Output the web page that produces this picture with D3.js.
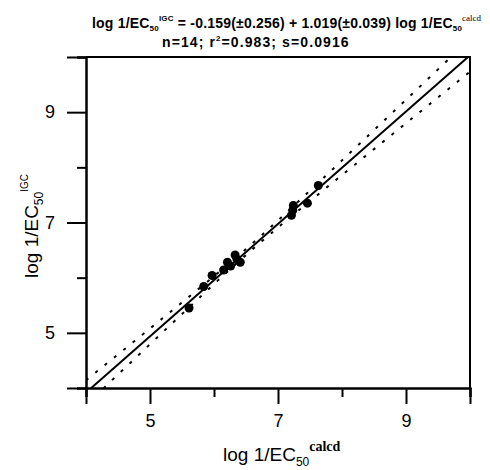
<!DOCTYPE html>
<html>
<head>
<meta charset="utf-8">
<script src="https://cdn.jsdelivr.net/npm/d3@7"></script>
<style>
  body { margin: 0; background: #fff; }
  text { font-family: "Liberation Sans", Arial, sans-serif; }
</style>
</head>
<body>
<div id="chart"></div>
<script>
var xCalcd = [5.61, 5.84, 5.97, 6.15, 6.21, 6.26, 6.33, 6.41, 6.36, 7.21, 7.23, 7.24, 7.46, 7.63];
var yIgc   = [5.45, 5.84, 6.04, 6.14, 6.28, 6.21, 6.41, 6.28, 6.33, 7.13, 7.22, 7.31, 7.35, 7.67];

var majorTicks = [5, 7, 9];
var minorTicks = [4, 6, 8, 10];

// regression stats from the title
var intercept = -0.159;
var slope = 1.019;
var sErr = 0.0916;
var tCrit = 2.179; // t(0.975, 12)

var width = 490, height = 470;
var plotLeft = 86, plotRight = 470, plotTop = 57, plotBottom = 388;

var svg = d3.select("#chart").append("svg")
    .attr("width", width).attr("height", height);

var x = d3.scaleLinear().domain([4, 10]).range([plotLeft, plotRight]);
var y = d3.scaleLinear().domain([4, 10]).range([plotBottom, plotTop]);

svg.append("clipPath").attr("id", "plot")
  .append("rect").attr("x", plotLeft).attr("y", plotTop)
  .attr("width", plotRight - plotLeft).attr("height", plotBottom - plotTop);

// frame (top + right)
svg.append("path")
    .attr("d", "M" + plotLeft + "," + y(10) + "H" + x(10) + "V" + y(4))
    .attr("fill", "none").attr("stroke", "#000").attr("stroke-width", 2);

// axes: major with labels, minor without
var xMajor = d3.axisBottom(x).tickValues(majorTicks).tickSize(16).tickPadding(10).tickFormat(d3.format("d"));
var xMinor = d3.axisBottom(x).tickValues(minorTicks).tickSize(9).tickFormat("");
var yMajor = d3.axisLeft(y).tickValues(majorTicks).tickSize(19).tickPadding(12).tickFormat(d3.format("d"));
var yMinor = d3.axisLeft(y).tickValues(minorTicks).tickSize(9).tickFormat("");

function styleAxis(g) {
  g.selectAll("path.domain").attr("stroke", "#000").attr("stroke-width", 2);
  g.selectAll(".tick line").attr("stroke", "#000").attr("stroke-width", 2);
  g.selectAll(".tick text").attr("fill", "#000")
    .style("font-family", "'Liberation Sans', Arial, sans-serif").style("font-size", "18px");
}

svg.append("g").attr("transform", "translate(0," + plotBottom + ")").call(xMinor).call(styleAxis);
svg.append("g").attr("transform", "translate(0," + plotBottom + ")").call(xMajor).call(styleAxis);
svg.append("g").attr("transform", "translate(" + plotLeft + ",0)").call(yMinor).call(styleAxis);
svg.append("g").attr("transform", "translate(" + plotLeft + ",0)").call(yMajor).call(styleAxis);

// 95% confidence band of the fit
var n = xCalcd.length;
var xMean = d3.mean(xCalcd);
var sxx = d3.sum(xCalcd, function(v) { return (v - xMean) * (v - xMean); });
var grid = d3.range(0, 121).map(function(i) { return 4 + i * 0.05; });
function fit(v) { return intercept + slope * v; }
function half(v) { return tCrit * sErr * Math.sqrt(1 / n + (v - xMean) * (v - xMean) / sxx); }

var line = d3.line().x(function(d) { return x(d[0]); }).y(function(d) { return y(d[1]); });
var plot = svg.append("g").attr("clip-path", "url(#plot)");

plot.append("path")
    .datum(grid.map(function(v) { return [v, fit(v) + half(v)]; }))
    .attr("d", line).attr("fill", "none").attr("stroke", "#000")
    .attr("stroke-width", 2).attr("stroke-dasharray", "3,9");
plot.append("path")
    .datum(grid.map(function(v) { return [v, fit(v) - half(v)]; }))
    .attr("d", line).attr("fill", "none").attr("stroke", "#000")
    .attr("stroke-width", 2).attr("stroke-dasharray", "3,9");
plot.append("path")
    .datum([[4, fit(4)], [10, fit(10)]])
    .attr("d", line).attr("fill", "none").attr("stroke", "#000").attr("stroke-width", 2);

// points
svg.append("g").selectAll("circle")
    .data(xCalcd)
    .join("circle")
    .attr("cx", function(d) { return x(d); })
    .attr("cy", function(d, i) { return y(yIgc[i]); })
    .attr("r", 4.5)
    .attr("fill", "#000");

// title
var t1 = svg.append("text").attr("x", 92).attr("y", 28)
    .style("font-size", "14px").style("font-weight", "bold").style("letter-spacing", "0.2px");
t1.append("tspan").text("log 1/EC");
t1.append("tspan").attr("dy", 3).style("font-size", "8px").text("50");
t1.append("tspan").attr("dy", -10).style("font-size", "8px").text("IGC");
t1.append("tspan").attr("dy", 7).text(" = -0.159(\u00b10.256) + 1.019(\u00b10.039) log 1/EC");
t1.append("tspan").attr("dy", 3).style("font-size", "8px").text("50");
t1.append("tspan").attr("dy", -10).style("font-size", "9px").style("letter-spacing", "0px")
    .style("font-family", "'Liberation Serif', 'Times New Roman', serif").style("font-weight", "normal").text("calcd");

var t2 = svg.append("text").attr("x", 162).attr("y", 47)
    .style("font-size", "14px").style("font-weight", "bold").style("letter-spacing", "1.1px");
t2.append("tspan").text("n=14; r");
t2.append("tspan").attr("dy", -6).style("font-size", "8px").text("2");
t2.append("tspan").attr("dy", 6).text("=0.983; s=0.0916");

// x axis title
var xl = svg.append("text").attr("x", 223).attr("y", 461).style("font-size", "19px");
xl.append("tspan").text("log 1/EC");
xl.append("tspan").attr("dy", 5).style("font-size", "12px").text("50");
xl.append("tspan").attr("dy", -15)
    .style("font-family", "'Liberation Serif', 'Times New Roman', serif")
    .style("font-weight", "bold").style("font-size", "14px").text("calcd");

// y axis title
var yl = svg.append("text").attr("transform", "translate(38,278) rotate(-90)").style("font-size", "19px");
yl.append("tspan").text("log 1/EC");
yl.append("tspan").attr("dy", 5).style("font-size", "12px").text("50");
yl.append("tspan").attr("dy", -15).style("font-size", "10px").text("IGC");
</script>
</body>
</html>
